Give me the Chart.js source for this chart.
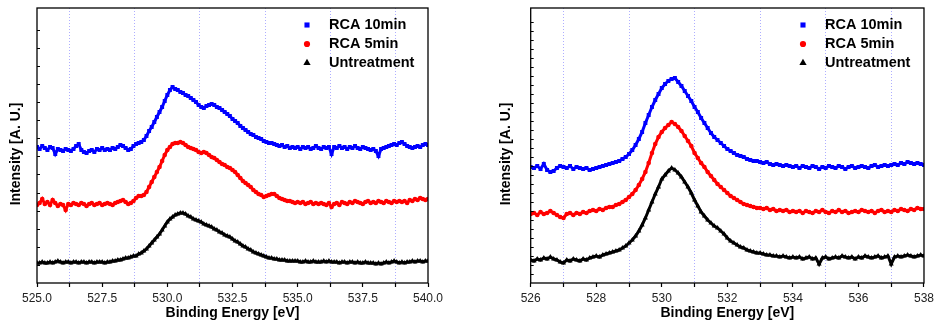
<!DOCTYPE html>
<html lang="en">
<head>
  <meta charset="UTF-8">
  <title>O 1s XPS spectra</title>
  <script src="https://cdn.jsdelivr.net/npm/chart.js"></script>
  <style>
    body { margin: 0; background: #fff; overflow: hidden; }
    canvas { position: absolute; top: 0; }
    #leftChart { left: 0; }
    #rightChart { left: 465px; }
  </style>
</head>
<body>
<canvas id="leftChart" width="465" height="331"></canvas>
<canvas id="rightChart" width="473" height="331"></canvas>
<script>
  const seriesNames = ['RCA 10min', 'RCA 5min', 'Untreatment'];

  // left panel: 525.0 - 540.0 eV, 0.1 eV step
  const leftStart = 525, leftStep = 0.1;
  const leftMajorTicks = [525, 527.5, 530, 532.5, 535, 537.5, 540];
  const leftRca10 = [
    136,134,137,135,133,136,135,129,134,133,
    132,134,133,132,134,137,139,133,131,130,
    132,133,131,134,133,135,133,134,133,135,
    134,136,138,137,135,133,134,137,139,140,
    141,143,147,152,156,161,166,171,176,182,
    188,193,196,194,193,191,190,188,187,185,
    183,181,178,176,175,177,178,179,178,176,
    175,173,171,169,167,164,162,160,157,155,
    153,151,149,148,146,145,144,142,141,140,
    140,139,138,137,138,136,137,135,136,135,
    136,134,136,135,136,134,135,137,135,134,
    136,135,136,129,136,135,137,135,136,134,
    136,135,137,135,134,136,135,134,133,134,
    132,127,134,135,136,137,138,139,138,140,
    141,139,137,136,135,136,137,136,138,139,
    138
  ];
  const leftRca5 = [
    78,80,84,79,81,78,83,80,77,79,
    78,73,79,78,80,79,78,80,79,77,
    79,80,78,79,80,78,79,80,79,78,
    80,81,82,83,81,79,80,82,85,87,
    87,88,91,96,101,106,111,116,122,128,
    133,136,139,140,140,141,140,138,136,135,
    134,133,131,130,131,130,128,126,125,123,
    121,119,118,116,115,113,111,108,105,102,
    100,98,96,93,91,89,88,86,87,88,
    89,89,87,85,84,83,82,82,81,80,
    81,80,81,79,80,81,79,80,79,80,
    79,78,80,76,79,80,78,81,80,79,
    81,80,82,81,80,79,81,82,80,81,
    80,82,81,80,82,81,80,82,81,82,
    81,82,80,83,82,84,83,85,84,83,
    84
  ];
  const leftUntreated = [
    20,20,21,20,20,21,20,21,22,21,
    20,21,21,20,21,21,20,21,21,20,
    21,21,20,21,21,21,20,21,21,22,
    22,23,23,24,25,25,26,27,27,29,
    30,32,34,37,40,43,46,49,53,57,
    61,64,66,68,69,70,70,69,67,66,
    64,63,62,61,59,58,57,56,54,53,
    51,50,48,47,46,44,42,41,39,37,
    36,34,33,31,30,29,28,27,26,25,
    25,24,24,23,23,23,22,22,22,22,
    22,21,21,22,21,21,22,21,21,21,
    22,21,22,21,21,21,20,21,21,20,
    21,21,20,21,20,20,21,20,20,20,
    19,20,19,20,21,20,21,22,21,20,
    21,20,21,21,22,21,22,22,21,22,
    22
  ];

  // right panel: 526 - 538 eV, 0.1 eV step
  const rightStart = 526, rightStep = 0.1;
  const rightMajorTicks = [526, 528, 530, 532, 534, 536, 538];
  const rightRca10 = [
    116,115,117,114,119,113,111,112,115,117,
    116,115,117,114,116,115,114,115,113,114,
    115,116,117,118,119,120,121,122,124,126,
    129,133,138,144,151,160,168,176,183,189,
    195,199,202,204,205,201,197,192,187,182,
    176,171,165,160,155,150,146,143,140,137,
    134,132,130,128,127,126,124,123,122,122,
    121,120,121,119,118,119,118,117,118,117,
    116,117,115,117,116,115,117,116,114,116,
    115,117,116,115,117,116,114,116,117,115,
    116,117,116,115,117,118,116,117,118,117,
    118,119,118,120,119,121,120,119,120,119,
    118
  ];
  const rightRca5 = [
    69,70,68,71,69,70,72,70,68,66,
    65,69,70,68,70,69,71,70,72,73,
    72,74,73,75,76,76,78,79,81,83,
    86,89,93,98,104,111,120,130,139,146,
    151,155,158,161,159,156,152,147,142,137,
    130,125,120,116,111,107,103,99,96,93,
    90,87,85,83,81,79,78,77,76,75,
    75,74,75,73,74,72,73,72,73,71,
    72,71,72,70,72,71,70,72,71,73,
    71,70,72,71,73,71,72,70,71,72,
    71,73,72,71,72,70,72,73,71,72,
    71,73,72,74,73,72,74,73,75,74,
    74
  ];
  const rightUntreated = [
    23,22,24,23,25,24,26,24,23,21,
    20,23,22,24,23,22,24,23,25,26,
    27,26,28,29,30,31,32,33,35,37,
    40,43,47,52,58,65,73,81,89,96,
    104,108,112,115,113,110,106,101,96,90,
    83,77,71,67,63,60,57,55,52,49,
    45,42,40,38,36,35,33,32,31,30,
    30,29,28,28,27,27,26,27,26,25,
    26,25,26,24,25,26,24,25,19,25,
    26,24,25,26,25,27,26,25,26,24,
    26,25,27,26,25,26,27,25,26,27,
    19,26,27,26,27,28,27,26,27,28,
    27
  ];

  const colors = ['#0000ff', '#ff0000', '#000000'];
  const markers = ['rect', 'circle', 'triangle'];
  const markerSize = [2.8, 2.3, 2.9];
  const legendSize = [3.6, 3.1, 4.2];
  const fontFamily = "'Liberation Sans', Arial, sans-serif";

  function toPoints(start, step, values) {
    return values.map((v, i) => ({ x: +(start + i * step).toFixed(2), y: v }));
  }

  // frame, inward y ticks, y title and legend
  const panelDecor = {
    id: 'panelDecor',
    afterDraw(chart, args, opts) {
      const { ctx, chartArea: a, scales } = chart;
      ctx.save();
      ctx.strokeStyle = '#000';
      ctx.lineWidth = 1;
      scales.y.ticks.forEach(t => {
        const py = Math.round(scales.y.getPixelForValue(t.value)) + 0.5;
        if (py < a.top + 2 || py > a.bottom - 2) return;
        ctx.beginPath();
        ctx.moveTo(a.left, py);
        ctx.lineTo(a.left + 3, py);
        ctx.stroke();
      });
      ctx.lineWidth = 1.3;
      ctx.strokeRect(a.left, a.top, a.right - a.left, a.bottom - a.top);

      // y title
      ctx.save();
      ctx.translate(a.left - opts.titleGap, (a.top + a.bottom) / 2 + 8.5);
      ctx.rotate(-Math.PI / 2);
      ctx.font = 'bold 14px ' + fontFamily;
      ctx.fillStyle = '#000';
      ctx.textAlign = 'center';
      ctx.textBaseline = 'middle';
      ctx.fillText('Intensity [A. U.]', 0, 0);
      ctx.restore();

      // legend
      ctx.font = 'bold 14.5px ' + fontFamily;
      ctx.textAlign = 'left';
      ctx.textBaseline = 'middle';
      chart.data.datasets.forEach((ds, i) => {
        const y = a.top + 17 + i * 19;
        ctx.fillStyle = ds.backgroundColor;
        ctx.strokeStyle = ds.borderColor;
        ctx.lineWidth = 1;
        Chart.helpers.drawPoint(ctx, { pointStyle: ds.pointStyle, radius: legendSize[i], borderWidth: 0 }, a.right - 121, y);
        ctx.fillStyle = '#000';
        ctx.fillText(ds.label, a.right - 99, y);
      });
      ctx.restore();
    }
  };

  function makeChart(id, start, step, series, majorTicks, tickStep, yStep, pad, titleGap, digits) {
    const datasets = series.map((vals, i) => ({
      label: seriesNames[i],
      data: toPoints(start, step, vals),
      borderColor: colors[i],
      backgroundColor: colors[i],
      borderWidth: 3,
      pointStyle: markers[i],
      pointRadius: markerSize[i],
      pointBorderWidth: 0,
      showLine: true,
      tension: 0
    }));
    const lo = majorTicks[0], hi = majorTicks[majorTicks.length - 1];
    return new Chart(document.getElementById(id), {
      type: 'scatter',
      data: { datasets },
      options: {
        responsive: false,
        animation: false,
        devicePixelRatio: 1,
        layout: { padding: pad },
        plugins: { legend: { display: false }, tooltip: { enabled: false }, panelDecor: { titleGap } },
        scales: {
          x: {
            type: 'linear',
            min: lo,
            max: hi,
            afterFit: s => { s.height = 48; },
            afterBuildTicks: s => {
              const t = [];
              for (let v = lo; v <= hi + 1e-6; v += tickStep) t.push({ value: +v.toFixed(2) });
              s.ticks = t;
            },
            ticks: {
              autoSkip: false,
              maxRotation: 0,
              padding: 4,
              color: '#222',
              font: { family: fontFamily, size: 12 },
              callback: v => majorTicks.some(m => Math.abs(m - v) < 1e-6) ? v.toFixed(digits) : ''
            },
            grid: {
              color: c => majorTicks.some(m => Math.abs(m - c.tick.value) < 1e-6) ? 'rgba(0,0,0,0)' : 'rgba(140,140,255,0.7)',
              lineWidth: 1,
              tickColor: '#000',
              tickLength: 4,
              tickWidth: 1.2
            },
            border: { display: false, dash: [1, 2] },
            title: {
              display: true,
              text: 'Binding Energy [eV]',
              color: '#000',
              font: { family: fontFamily, size: 14, weight: 'bold' },
              padding: { top: 0, bottom: 9.6 }
            }
          },
          y: {
            min: 0,
            max: 275,
            afterFit: s => { s.width = pad.yWidth; },
            ticks: { display: false, stepSize: yStep },
            grid: { display: false },
            border: { display: false }
          }
        }
      },
      plugins: [panelDecor]
    });
  }

  makeChart('leftChart', leftStart, leftStep, [leftRca10, leftRca5, leftUntreated],
    leftMajorTicks, 1.25, 18.1, { left: 0, right: 37, top: 8, bottom: 0, yWidth: 37 }, 21, 1);
  makeChart('rightChart', rightStart, rightStep, [rightRca10, rightRca5, rightUntreated],
    rightMajorTicks, 1, 9, { left: 0, right: 10.5, top: 8, bottom: 0, yWidth: 65.7 }, 24.7, 0);
</script>
</body>
</html>
